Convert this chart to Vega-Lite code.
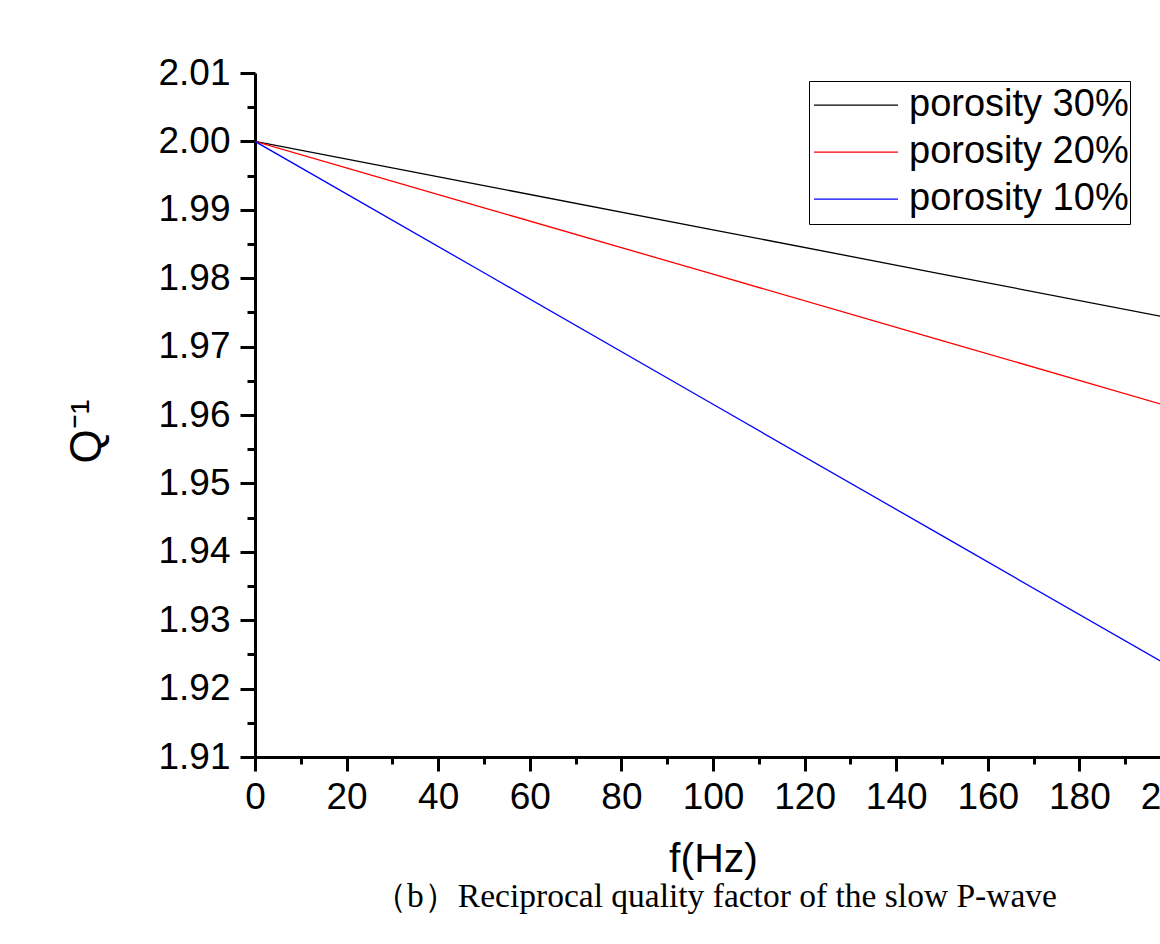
{
  "$schema": "https://vega.github.io/schema/vega-lite/v6.json",
  "autosize": "none",
  "padding": {"left": 255, "top": 73, "right": 0, "bottom": 187},
  "width": 916,
  "height": 684,
  "background": "white",
  "config": {
    "view": {"stroke": null},
    "axis": {
      "labelFont": "Liberation Sans",
      "labelFontSize": 37,
      "labelColor": "black",
      "titleFont": "Liberation Sans",
      "titleFontWeight": "normal",
      "titleColor": "black",
      "domainColor": "black",
      "domainWidth": 3,
      "tickColor": "black",
      "tickWidth": 3,
      "grid": false
    }
  },
  "title": {
    "text": "（b）Reciprocal quality factor of the slow P-wave",
    "orient": "bottom",
    "font": "Liberation Serif",
    "fontSize": 33.5,
    "fontWeight": "normal",
    "color": "black",
    "anchor": "middle",
    "dx": 2,
    "offset": 2
  },
  "data": {
    "values": [
      {"series": "porosity 30%", "f": 0, "q": 2.0},
      {"series": "porosity 30%", "f": 50, "q": 1.99354},
      {"series": "porosity 30%", "f": 100, "q": 1.98708},
      {"series": "porosity 30%", "f": 150, "q": 1.98061},
      {"series": "porosity 30%", "f": 200, "q": 1.97415},
      {"series": "porosity 20%", "f": 0, "q": 2.0},
      {"series": "porosity 20%", "f": 50, "q": 1.99029},
      {"series": "porosity 20%", "f": 100, "q": 1.98059},
      {"series": "porosity 20%", "f": 150, "q": 1.97088},
      {"series": "porosity 20%", "f": 200, "q": 1.96117},
      {"series": "porosity 10%", "f": 0, "q": 2.0},
      {"series": "porosity 10%", "f": 50, "q": 1.98079},
      {"series": "porosity 10%", "f": 100, "q": 1.96157},
      {"series": "porosity 10%", "f": 150, "q": 1.94236},
      {"series": "porosity 10%", "f": 200, "q": 1.92314}
    ]
  },
  "mark": {"type": "line", "strokeWidth": 1.3, "clip": true},
  "encoding": {
    "x": {
      "field": "f",
      "type": "quantitative",
      "scale": {"domain": [0, 200], "nice": false, "zero": false},
      "axis": {
        "title": "f(Hz)",
        "titleFontSize": 41,
        "titlePadding": 24,
        "values": [0, 10, 20, 30, 40, 50, 60, 70, 80, 90, 100, 110, 120, 130, 140, 150, 160, 170, 180, 190, 200],
        "labelExpr": "datum.value % 20 == 0 ? datum.label : ''",
        "tickSize": {"condition": {"test": "datum.value % 20 != 0", "value": 7}, "value": 14},
        "labelPadding": 8,
        "labelOverlap": false,
        "labelFlush": false
      }
    },
    "y": {
      "field": "q",
      "type": "quantitative",
      "scale": {"domain": [1.91, 2.01], "nice": false, "zero": false},
      "axis": {
        "title": "Q⁻¹",
        "titleFontSize": 44,
        "titlePadding": 48,
        "titleY": 358,
        "values": [1.91, 1.915, 1.92, 1.925, 1.93, 1.935, 1.94, 1.945, 1.95, 1.955, 1.96, 1.965, 1.97, 1.975, 1.98, 1.985, 1.99, 1.995, 2.0, 2.005, 2.01],
        "format": ".2f",
        "labelExpr": "round(datum.value * 1000) % 10 == 0 ? datum.label : ''",
        "tickSize": {"condition": {"test": "round(datum.value * 1000) % 10 != 0", "value": 8}, "value": 15},
        "labelPadding": 10,
        "labelOverlap": false,
        "labelFlush": false
      }
    },
    "color": {
      "field": "series",
      "type": "nominal",
      "scale": {
        "domain": ["porosity 30%", "porosity 20%", "porosity 10%"],
        "range": ["#000000", "#ff0000", "#0000ff"]
      },
      "legend": {
        "title": null,
        "orient": "none",
        "legendX": 554,
        "legendY": 8,
        "symbolType": "stroke",
        "symbolSize": 7056,
        "symbolStrokeWidth": 1.3,
        "symbolOffset": 3,
        "clipHeight": 46.3,
        "rowPadding": 0,
        "labelOffset": 10,
        "padding": 1,
        "strokeColor": "black",
        "labelFont": "Liberation Sans",
        "labelFontSize": 38,
        "labelColor": "black",
        "labelLimit": 0
      }
    }
  }
}
